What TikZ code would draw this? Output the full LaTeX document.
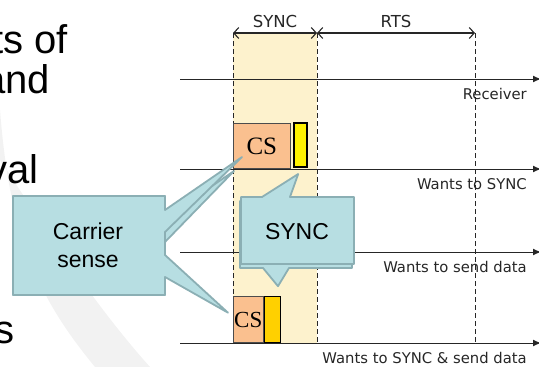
\documentclass[tikz,border=0pt]{standalone}
\usepackage{fontspec}
\setmainfont{Liberation Serif}
\newfontfamily\lanefont{DejaVu Sans}
\newfontfamily\slidefont{Liberation Sans}
\usetikzlibrary{arrows.meta}
\definecolor{syncband}{RGB}{253,242,205}
\definecolor{csfill}{RGB}{250,192,143}
\definecolor{gold}{RGB}{255,208,0}
\definecolor{notefill}{RGB}{183,222,226}
\definecolor{noteline}{RGB}{139,175,180}
\definecolor{swoosh}{RGB}{242,242,242}

\begin{document}
\begin{tikzpicture}[
  x=1pt, y=-1pt,
  % one unit is one pixel of the slide, y runs downwards
  axis/.style={draw=black!85, line width=1pt, -{Latex[length=8pt,width=7pt]}},
  span/.style={draw=black!85, line width=1.1pt,
    {Straight Barb[length=5pt,width=11pt]}-{Straight Barb[length=5pt,width=11pt]}},
  guide/.style={draw=black!85, line width=0.9pt, dash pattern=on 5pt off 3pt},
  lane/.style={font=\lanefont\fontsize{14.8}{16}\selectfont, text=black!85, inner sep=0pt, anchor=base east},
  spanlbl/.style={font=\lanefont\fontsize{16.5}{18}\selectfont, text=black!85},
  csbox/.style={draw=black!70, fill=csfill, line width=0.6pt, inner sep=0pt, anchor=south west},
  syncbox/.style={draw=black, inner sep=0pt, anchor=south west},
  note/.style={fill=notefill, draw=noteline, line width=1.8pt, line join=round},
  notetxt/.style={font=\slidefont\fontsize{23}{28}\selectfont, align=center},
  slide/.style={font=\slidefont\fontsize{40}{44}\selectfont, inner sep=0pt, anchor=base east}
]
\useasboundingbox (0,0) rectangle (539,367);

% background swoosh of the slide
\fill[swoosh] (0,110) .. controls (10,240) and (40,300) .. (95,367)
  -- (150,367) .. controls (90,300) and (40,220) .. (0,160) -- cycle;

% what is left of the slide text
\node[slide] (txt1) at (68,53) {ts of};
\node[slide] (txt2) at (50,93) {and};
\node[slide] (txt3) at (39,183) {val};
\node[slide] (txt4) at (15,343) {s};

% time marks
\coordinate (t0) at (233,33);
\coordinate (t1) at (317,33);
\coordinate (t2) at (475,33);

% lanes
\foreach \name/\y in {recv/79, wsync/169, wsend/252, wboth/343} {
  \coordinate (\name-s) at (180,\y);
  \coordinate (\name-e) at (541,\y);
}

\fill[syncband] (t0) rectangle (t1 |- wboth-s);
\foreach \tm in {t0,t1,t2}
  \draw[guide] (\tm) -- (\tm |- wboth-s);
\foreach \name in {recv,wsync,wsend,wboth}
  \draw[axis] (\name-s) -- (\name-e);

\foreach \name/\y/\txt in {recv/79/Receiver, wsync/169/Wants to SYNC,
    wsend/252/Wants to send data, wboth/343/Wants to SYNC \& send data}
  \node[lane] (\name-lbl) at (527,\y+20) {\txt};

\draw[span] (t0) -- node[spanlbl, above=1pt] (sync-lbl) {SYNC} (t1);
\draw[span] (t1) -- node[spanlbl, above=1pt] (rts-lbl) {RTS} (t2);

% carrier sense + sync frames
\node[csbox, minimum width=57pt, minimum height=45pt, font=\fontsize{25}{27}\selectfont]
  (cs1) at (wsync-s -| t0) {CS};
\node[syncbox, fill=yellow, line width=2.2pt, minimum width=13pt, minimum height=44pt]
  (sync1) at ([xshift=2pt,yshift=1pt]cs1.south east) {};
\node[csbox, minimum width=30pt, minimum height=46pt, font=\fontsize{23}{25}\selectfont]
  (cs2) at (wboth-s -| t0) {CS};
\node[syncbox, fill=gold, line width=0.8pt, minimum width=16pt, minimum height=46pt]
  (sync2) at (cs2.south east) {};

% callouts
\draw[note] (13,196) -- (165,196) -- (165,218) -- ([xshift=1pt,yshift=-2pt]cs1.south west)
  -- (165,242) -- (165,295) -- (13,295) -- cycle;
\draw[note] (13,196) -- (165,196) -- (165,210) -- ([xshift=9pt,yshift=12pt]cs1.south west)
  -- (165,232) -- (165,255) -- ([xshift=-5pt,yshift=7pt]cs2.west)
  -- (165,277) -- (165,295) -- (13,295) -- cycle;
\node[notetxt] (cs-note) at (88,245.5) {Carrier\\sense};

\draw[note] (240,201) -- (352,201) -- (352,268) -- (289,268)
  -- ([xshift=6pt,yshift=10pt]sync2.north) -- (263,268) -- (240,268) -- cycle;
\draw[note] (241,197) -- (262,197) -- ([xshift=-2pt,yshift=-6pt]sync1.south)
  -- (290,197) -- (354,197) -- (354,264) -- (241,264) -- cycle;
\node[notetxt] (sync-note) at (297,232) {SYNC};
\end{tikzpicture}
\end{document}
